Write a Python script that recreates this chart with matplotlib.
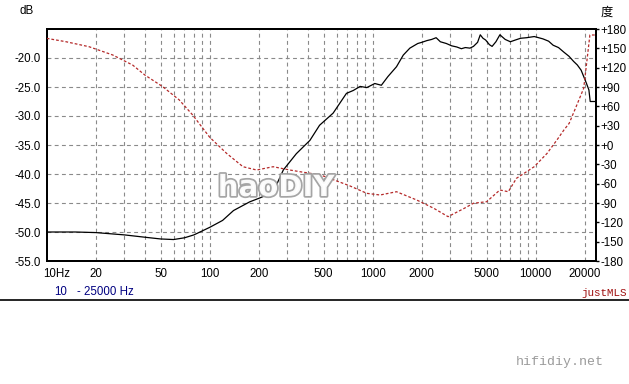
import numpy as np
import matplotlib
matplotlib.use("Agg")
import matplotlib.pyplot as plt
from matplotlib.ticker import FixedLocator, NullLocator
import matplotlib.patheffects as pe
import matplotlib.transforms as mtransforms
from matplotlib.lines import Line2D

# ---- data ----
mag_freq = [10, 15, 20, 30, 40, 50, 60, 70, 80, 100, 120, 140, 176, 200, 225, 250, 283, 340,
            412, 472, 572, 690, 760, 837, 920, 1030, 1130, 1240, 1400, 1540, 1690, 1890,
            2000, 2150, 2300, 2450, 2600, 2830, 3050, 3280, 3500, 3700, 3950, 4150, 4400,
            4570, 4750, 4930, 5200, 5400, 5700, 6030, 6500, 6990, 7500, 8070, 8800,
            9800, 11070, 12000, 12800, 13800, 14900, 16000, 17100, 18000, 19000, 20500,
            21200, 21600, 23440]
mag_db = [-50.0, -50.0, -50.1, -50.5, -50.9, -51.2, -51.3, -51.0, -50.5, -49.2, -48.0,
          -46.3, -44.8, -44.2, -43.6, -42.6, -39.3, -36.5, -34.2, -31.6, -29.5, -26.1,
          -25.6, -24.9, -25.1, -24.4, -24.7, -23.2, -21.5, -19.5, -18.3, -17.5,
          -17.3, -17.0, -16.8, -16.5, -17.2, -17.5, -17.9, -18.1, -18.4, -18.2, -18.3, -18.0,
          -17.3, -16.0, -16.6, -16.9, -17.7, -18.0, -17.2, -16.0, -16.8, -17.2, -16.9, -16.6,
          -16.5, -16.3, -16.7, -17.1, -17.8, -18.2, -19.0, -19.7, -20.6, -21.2, -22.1,
          -24.4, -25.5, -27.5, -27.5]

ph_freq = [10, 13.1, 18.2, 25.4, 33.7, 40, 51.5, 65, 78.6, 100, 127, 160, 194, 245, 310,
           357, 412, 472, 545, 725, 920, 1110, 1400, 1860, 2370, 2900, 3650, 4150, 5000,
           6030, 6790, 7620, 9800, 11750, 13500, 14900, 16050, 17700, 19700, 20700,
           21500, 23440]
ph_deg = [165.5, 160.3, 152.5, 139.7, 124.0, 108.6, 90.5, 70.0, 46.6, 12.0, -13.0, -33.7,
          -38.8, -33.7, -38.8, -41.4, -43.9, -46.0, -51.7, -63.5, -75.0, -77.6, -72.5,
          -85.3, -98.2, -111.2, -98.2, -90.4, -88.0, -69.8, -72.5, -51.7, -33.6, -12.9,
          7.8, 23.3, 33.7, 59.4, 88.0, 134.5, 170.7, 170.7]

db_ticks = [-20, -25, -30, -35, -40, -45, -50, -55]
deg_ticks = list(range(-180, 181, 30))
x_tick_vals = [10, 20, 50, 100, 200, 500, 1000, 2000, 5000, 10000, 20000]
x_tick_labels = ["10Hz", "20", "50", "100", "200", "500", "1000", "2000", "5000", "10000", "20000"]

# ---- figure ----
W, H = 629, 384
fig = plt.figure(figsize=(W / 100, H / 100), dpi=100)
ax = fig.add_axes([46.7 / W, 1 - 261 / H, (596 - 46.7) / W, (261 - 29) / H])
ax.set_xscale("log")
ax.set_xlim(10, 23440)
ax.set_ylim(-55, -15)

font = "Liberation Sans"
fs = 8.3

# grid
gcol = "#8a8a8a"
gkw = dict(color=gcol, lw=0.8, linestyle=(0, (3.5, 3)), zorder=1)
for d in db_ticks[:-1]:
    ax.axhline(d, **gkw)
grid_x = []
for dec in [10, 100, 1000, 10000]:
    for m in range(1, 10):
        v = dec * m
        if 10 < v < 23440:
            grid_x.append(v)
for v in grid_x:
    ax.axvline(v, **gkw)

ax.plot(mag_freq, mag_db, color="black", lw=0.9, zorder=4)

ax2 = ax.twinx()
ax2.set_ylim(-180, 180)
ax2.plot(ph_freq, ph_deg, color="#b52a2a", lw=0.9, linestyle=(0, (2.2, 1.6)), zorder=3)

# ticks
ax.xaxis.set_major_locator(FixedLocator(x_tick_vals))
ax.xaxis.set_minor_locator(NullLocator())
ax.set_xticklabels(x_tick_labels, fontfamily=font, fontsize=fs)
ax.tick_params(axis="x", length=0, pad=5)
ax.set_yticks(db_ticks)
ax.set_yticklabels([f"{d:.1f}" for d in db_ticks], fontfamily=font, fontsize=fs)
ax.tick_params(axis="y", length=0, pad=4)
ax2.set_yticks(deg_ticks)
ax2.set_yticklabels([("+" if d >= 0 else "") + f"{d}" for d in deg_ticks],
                    fontfamily=font, fontsize=fs)
ax2.tick_params(axis="y", length=2, pad=1, width=1)

for a in (ax, ax2):
    for s in a.spines.values():
        s.set_linewidth(1.4)
        s.set_color("black")

# first x label starts near the axis
lbl0 = ax.get_xticklabels()[0]
lbl0.set_ha("left")
lbl0.set_transform(lbl0.get_transform() + mtransforms.ScaledTranslation(-4 / 100, 0, fig.dpi_scale_trans))

# axis unit labels
fig.text(20 / W, 1 - 11 / H, "dB", fontfamily=font, fontsize=fs, va="center", ha="left")
fig.text(601 / W, 1 - 12 / H, "度", fontfamily=["Noto Sans CJK SC", "DejaVu Sans"],
         fontsize=fs + 0.5, va="center", ha="left")

# bottom texts
fig.text(54 / W, 1 - 292 / H, "10", fontfamily=font, fontsize=fs, color="#000080", va="center")
fig.text(77 / W, 1 - 292 / H, "- 25000 Hz", fontfamily=font, fontsize=fs, color="#000080", va="center")
fig.text(627 / W, 1 - 293 / H, "justMLS", fontfamily="Liberation Mono", fontsize=7.8,
         color="#a01010", va="center", ha="right")
fig.add_artist(Line2D([0, 1], [1 - 300 / H, 1 - 300 / H], color="black", lw=1.2,
                      transform=fig.transFigure))
fig.text(560 / W, 1 - 362 / H, "hifidiy.net", fontfamily="Liberation Mono", fontsize=9.5,
         color="#9a9a9a", va="center", ha="center")

# watermark logo
fig.text(276 / W, 1 - 188 / H, "haoDIY", fontfamily="DejaVu Sans", fontweight="bold",
         fontsize=21, color="white", va="center", ha="center", alpha=0.95, zorder=10,
         path_effects=[pe.withStroke(linewidth=2.5, foreground="#a0a0a0")])

fig.savefig("out.png", dpi=100)
